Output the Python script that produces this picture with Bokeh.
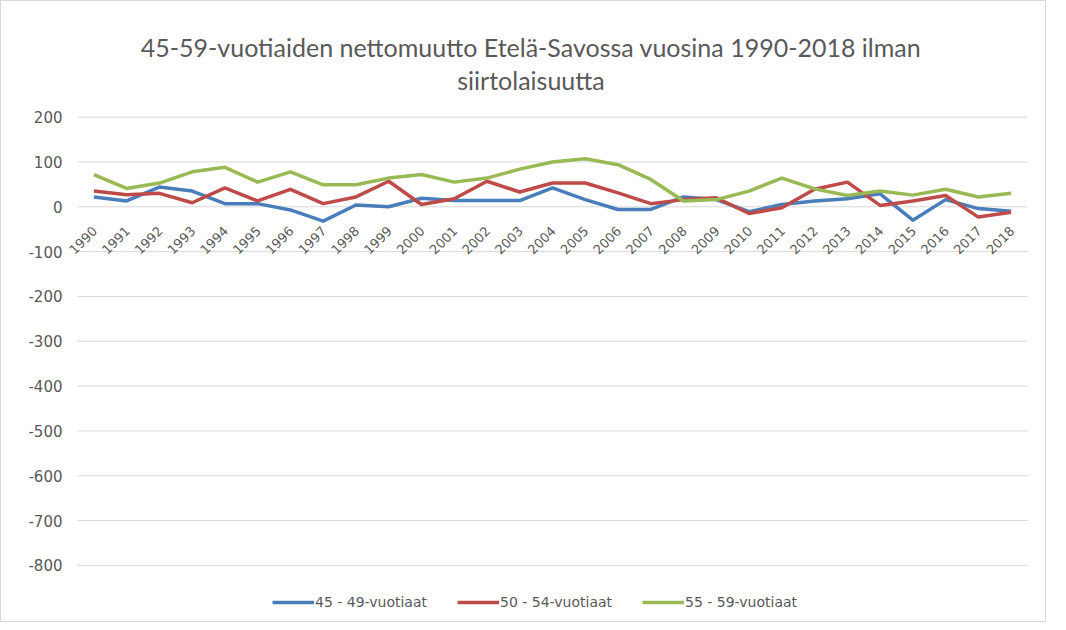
import math
from bokeh.plotting import figure
from bokeh.models import Range1d, Legend, LegendItem, ColumnDataSource, Label
from bokeh.core.properties import value
from bokeh.embed import file_html
from bokeh.resources import INLINE

years = list(range(1990, 2019))
age_45_49 = [22, 13, 44, 35, 7, 7, -7, -32, 4, 0, 19, 14, 14, 14, 42, 16, -6, -6, 22,
             16, -11, 5, 13, 18, 29, -30, 16, -4, -10]
age_50_54 = [35, 27, 30, 9, 42, 13, 39, 7, 22, 57, 5, 18, 57, 33, 53, 53, 31, 7, 16,
             20, -15, -2, 39, 55, 3, 13, 25, -23, -12]
age_55_59 = [72, 41, 53, 78, 88, 55, 78, 49, 49, 64, 72, 55, 64, 84, 100, 107, 94, 61, 13,
             16, 35, 64, 40, 25, 35, 26, 39, 22, 30]
series_names = ["45 - 49-vuotiaat", "50 - 54-vuotiaat", "55 - 59-vuotiaat"]
colors = ["#4A7EBB", "#BE4B48", "#98B954"]
y_ticks = [200, 100, 0, -100, -200, -300, -400, -500, -600, -700, -800]
title_lines = ["45-59-vuotiaiden nettomuutto Etelä-Savossa vuosina 1990-2018 ilman",
               "siirtolaisuutta"]

TFONT = "Lato"
FONT = "DejaVu Sans"
GREY = "#595959"

# The frame covers the whole canvas; the plotting area proper runs from
# half a category left of the first year to half a category right of the last.
p = figure(width=1046, height=622, output_backend="svg", toolbar_location=None,
           x_range=Range1d(1987.18, 2019.11), y_range=Range1d(-923, 458),
           min_border_left=0, min_border_right=0, min_border_top=0, min_border_bottom=3,
           styles={"border": "1px solid #D9D9D9"})
p.axis.visible = False
p.grid.visible = False
p.outline_line_color = None

x_lo = years[0] - 0.5
x_hi = years[-1] + 0.5

# horizontal gridlines
p.segment(x0=[x_lo] * len(y_ticks), x1=[x_hi] * len(y_ticks), y0=y_ticks, y1=y_ticks,
          line_color="#D9D9D9", line_width=1)

# y tick labels
p.text(x=[x_lo] * len(y_ticks), y=y_ticks, text=[str(t) for t in y_ticks],
       text_align="right", text_baseline="middle", x_offset=-15,
       text_font=value(FONT), text_font_size="15px", text_color=GREY)

# x labels at the zero line, rotated
lab_src = ColumnDataSource(dict(x=years, y=[0] * len(years), t=[str(y) for y in years]))
p.text(x="x", y="y", text="t", source=lab_src, angle=math.pi / 4,
       text_align="right", text_baseline="middle", x_offset=1, y_offset=22,
       text_font=value(FONT), text_font_size="13px", text_color=GREY)

# title
for txt, yv in zip(title_lines, [356, 282]):
    p.add_layout(Label(x=(years[0] + years[-1]) / 2, y=yv, x_offset=-21.5, text=txt,
                       text_align="center", text_baseline="middle",
                       text_font=TFONT, text_font_size="25px", text_color=GREY))

items = []
for name, vals, c in zip(series_names, [age_45_49, age_50_54, age_55_59], colors):
    r = p.line(years, vals, line_color=c, line_width=3.5, line_join="round")
    items.append(LegendItem(label=name, renderers=[r]))

legend = Legend(items=items, orientation="horizontal", location=(271, 8),
                label_text_font=FONT, label_text_font_size="14px", label_text_color=GREY,
                glyph_width=42, spacing=30, label_standoff=1, border_line_color=None,
                background_fill_alpha=0, margin=0, padding=0)
p.add_layout(legend, "center")

open("out.html", "w").write(file_html(p, INLINE))
